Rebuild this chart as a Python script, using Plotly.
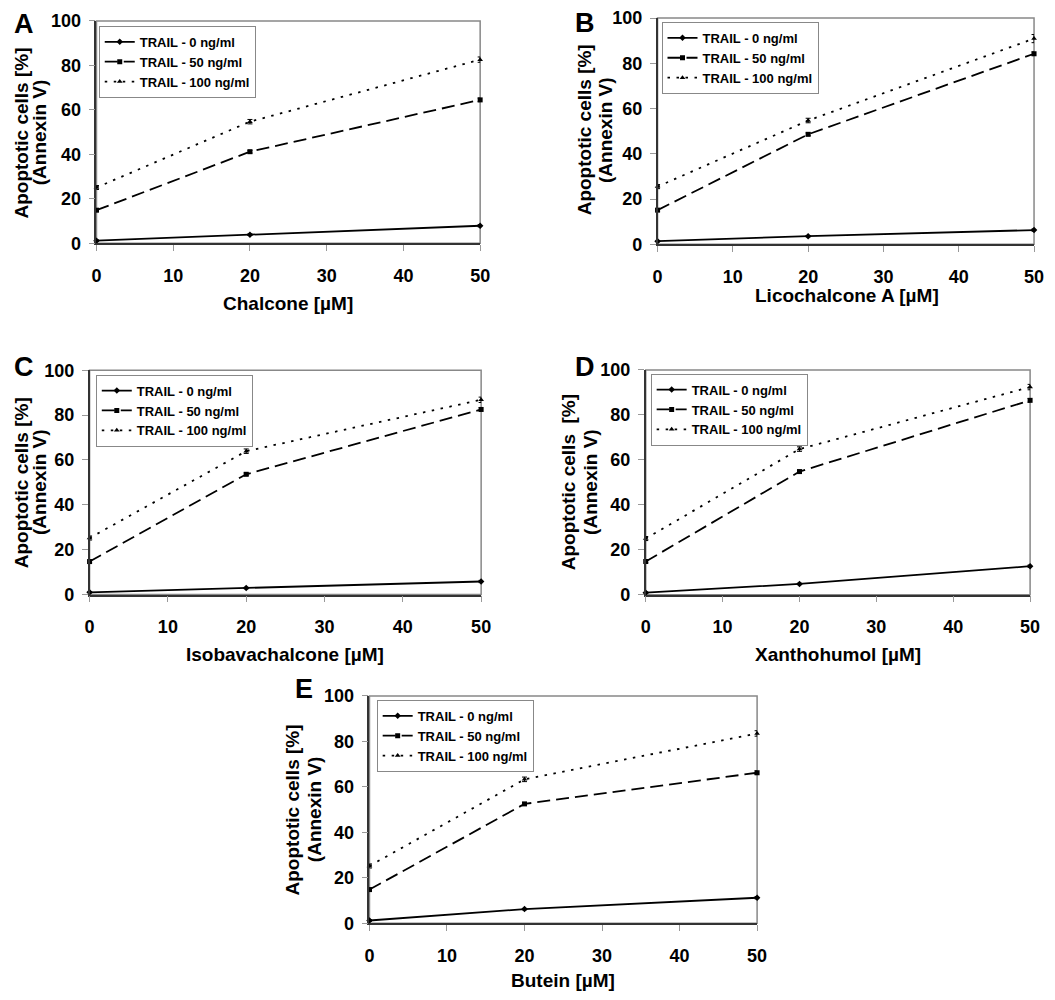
import plotly.graph_objects as go

# ---------------- data ----------------
doses = [0, 20, 50]
x_ticks = [0, 10, 20, 30, 40, 50]
y_ticks = [0, 20, 40, 60, 80, 100]
series_names = ["TRAIL - 0 ng/ml", "TRAIL - 50 ng/ml", "TRAIL - 100 ng/ml"]

panel_letters = ["A", "B", "C", "D", "E"]
compounds = ["Chalcone [µM]", "Licochalcone A [µM]", "Isobavachalcone [µM]",
             "Xanthohumol [µM]", "Butein [µM]"]
ytitle_line1 = ["Apoptotic cells [%]", "Apoptotic cells [%]", "Apoptotic cells [%]",
                "Apoptotic cells \u00a0[%]", "Apoptotic cells [%]"]
ytitle_line2 = "(Annexin V)"

A_t0 = [1.2, 3.9, 7.9]
A_t50 = [14.9, 41.2, 64.5]
A_t100 = [25.1, 54.7, 82.6]

B_t0 = [1.4, 3.6, 6.3]
B_t50 = [15.1, 48.6, 84.2]
B_t100 = [25.5, 54.7, 90.9]

C_t0 = [1.0, 2.9, 5.8]
C_t50 = [14.7, 53.6, 82.5]
C_t100 = [25.2, 63.9, 86.8]

D_t0 = [0.9, 4.8, 12.7]
D_t50 = [14.8, 54.8, 86.5]
D_t100 = [25.0, 64.8, 92.4]

E_t0 = [1.2, 6.2, 11.2]
E_t50 = [14.8, 52.5, 66.2]
E_t100 = [25.2, 63.3, 83.5]

# small error bars (estimated)
err_t0 = [0.3, 0.3, 0.5]
err_t50 = [0.6, 0.6, 0.8]
err_t100 = [0.9, 1.0, 1.2]
err_t100_B = [0.9, 1.0, 1.8]

panels = [
    (A_t0, A_t50, A_t100, err_t100),
    (B_t0, B_t50, B_t100, err_t100_B),
    (C_t0, C_t50, C_t100, err_t100),
    (D_t0, D_t50, D_t100, err_t100),
    (E_t0, E_t50, E_t100, err_t100),
]

# ---------------- layout geometry (page pixels) ----------------
PAGE_MARGIN = 8            # default body margin of the html page
W, H = 1055 - 2 * PAGE_MARGIN, 1000 - 2 * PAGE_MARGIN
# plot area: x0px, x1px, ytop_px, ybottom_px
geom = [
    (92.7, 482.0, 11.0, 238.0),
    (662.0, 1044.0, 7.0, 239.0),
    (85.7, 483.0, 367.5, 596.5),
    (650.0, 1040.0, 367.3, 596.7),
    (369.7, 763.0, 700.0, 932.0),
]
legend_pos = [(95, 16), (666, 12), (92, 372), (655, 371), (377, 704)]
letter_pos = [(19, 14), (588, 13), (19, 364), (588, 364), (303, 693)]
xtitle_pos = [(287, 299), (854, 291), (284, 658), (845, 658), (566, 990)]
ytitle_pos = [((17, 125), (35, 125)), ((588, 122), (609, 122)),
              ((16, 482), (35, 482)), ((572, 482), (594, 482)),
              ((292, 816), (314, 816))]

FONT = "Arial, Liberation Sans, Helvetica, sans-serif"
styles = [
    dict(dash="solid", symbol="diamond", size=5),
    dict(dash="13px,6px", symbol="square", size=5),
    dict(dash="2.5px,6.5px", symbol="triangle-up", size=5),
]

fig = go.Figure()
layout = dict(
    width=W, height=H, margin=dict(l=0, r=0, t=0, b=0),
    paper_bgcolor="white", plot_bgcolor="white",
    showlegend=True, annotations=[], shapes=[],
)

def px_x(v):
    return (v - PAGE_MARGIN) / W

def px_y(v):
    return 1 - (v - PAGE_MARGIN) / H

for i, (vals, g) in enumerate(zip(panels, geom)):
    n = "" if i == 0 else str(i + 1)
    xa, ya = "x" + n, "y" + n
    leg = "legend" + n
    x0, x1, yt, yb = g
    layout["xaxis" + n] = dict(
        domain=[px_x(x0), min(px_x(x1), 1.0)], range=[0, 50], anchor=ya,
        tickvals=x_ticks, ticks="outside", ticklen=6, tickcolor="#999",
        showline=True, linecolor="#333", linewidth=1.5, showgrid=False,
        zeroline=False, tickfont=dict(family=FONT, size=18, color="black", weight="bold"),
        ticklabelstandoff=9,
    )
    layout["yaxis" + n] = dict(
        domain=[max(px_y(yb), 0.0), min(px_y(yt), 1.0)], range=[0, 100], anchor=xa,
        tickvals=y_ticks, ticks="outside", ticklen=6, tickcolor="#999",
        showline=True, linecolor="#333", linewidth=1.5, showgrid=False,
        zeroline=False, tickfont=dict(family=FONT, size=18, color="black", weight="bold"),
        ticklabelstandoff=4,
    )
    lx, ly = legend_pos[i]
    layout[leg] = dict(
        x=px_x(lx), y=px_y(ly), xanchor="left", yanchor="top",
        bgcolor="white", bordercolor="#888", borderwidth=1,
        font=dict(family=FONT, size=13, color="black", weight="bold"),
        tracegroupgap=0, itemwidth=30,
    )
    # frame (top/right gray border)
    layout["shapes"].append(dict(
        type="rect", xref=xa + " domain", yref=ya + " domain",
        x0=0, x1=1, y0=0, y1=1, line=dict(color="#888", width=1.5), layer="below",
    ))
    t0, t50, t100, e100 = vals
    ys = [t0, t50, t100]
    es = [err_t0, err_t50, e100]
    for k in range(3):
        st = styles[k]
        fig.add_trace(go.Scatter(
            x=doses, y=ys[k], name=series_names[k], mode="lines+markers",
            xaxis=xa, yaxis=ya, legend=leg, cliponaxis=False,
            line=dict(color="black", width=1.8, dash=st["dash"]),
            marker=dict(color="black", symbol=st["symbol"], size=st["size"]),
            error_y=dict(type="data", array=es[k], visible=True, color="black",
                         thickness=1, width=2.5),
        ))
    # panel letter
    px_, py_ = letter_pos[i]
    layout["annotations"].append(dict(
        text=panel_letters[i], x=px_x(px_), y=px_y(py_), xref="paper", yref="paper",
        showarrow=False, xanchor="center", yanchor="middle",
        font=dict(family=FONT, size=27, color="black", weight="bold"),
    ))
    # x title
    tx, ty = xtitle_pos[i]
    layout["annotations"].append(dict(
        text=compounds[i], x=px_x(tx), y=px_y(ty), xref="paper", yref="paper",
        showarrow=False, xanchor="center", yanchor="middle",
        font=dict(family=FONT, size=19, color="black", weight="bold"),
    ))
    # y title (two lines)
    (l1x, l1y), (l2x, l2y) = ytitle_pos[i]
    for txt, (ax_, ay_) in ((ytitle_line1[i], (l1x, l1y)), (ytitle_line2, (l2x, l2y))):
        layout["annotations"].append(dict(
            text=txt, x=px_x(ax_), y=px_y(ay_), xref="paper", yref="paper",
            showarrow=False, xanchor="center", yanchor="middle", textangle=-90,
            font=dict(family=FONT, size=19, color="black", weight="bold"),
        ))

fig.update_layout(**layout)
fig.write_html("out.html")
